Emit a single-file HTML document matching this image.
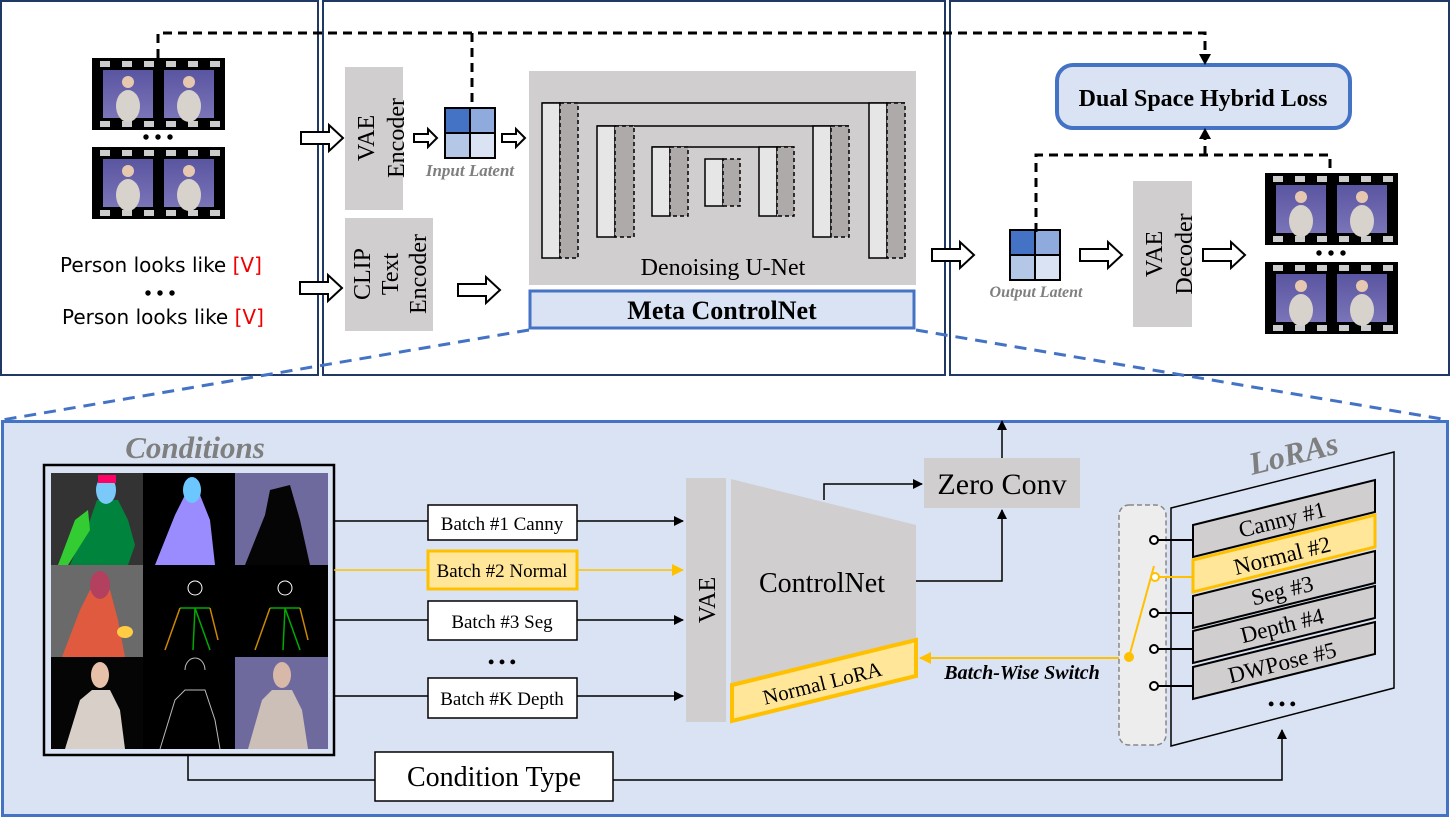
<!DOCTYPE html>
<html><head><meta charset="utf-8"><style>
html,body{margin:0;padding:0;background:#fff}
svg{display:block}
text{font-family:"Liberation Serif",serif}
</style></head><body>
<svg width="1451" height="819" viewBox="0 0 1451 819" xmlns="http://www.w3.org/2000/svg">
<defs>
<marker id="ab" markerWidth="10" markerHeight="10" refX="9" refY="5" orient="auto" markerUnits="userSpaceOnUse"><path d="M0,0 L10,5 L0,10 z" fill="#000"/></marker>
<marker id="ay" markerWidth="12" markerHeight="12" refX="11" refY="6" orient="auto" markerUnits="userSpaceOnUse"><path d="M0,0 L12,6 L0,12 z" fill="#ffc000"/></marker>
<linearGradient id="ph" x1="0" y1="0" x2="0" y2="1"><stop offset="0" stop-color="#5a55a0"/><stop offset="1" stop-color="#7a74b8"/></linearGradient>
<g id="hollow"><path d="M0,-6 L28,-6 L28,-13 L42,0 L28,13 L28,6 L0,6 z" fill="#fff" stroke="#000" stroke-width="2"/></g>
<g id="shollow"><path d="M0,-4 L14,-4 L14,-9 L23,0 L14,9 L14,4 L0,4 z" fill="#fff" stroke="#000" stroke-width="2"/></g>
<g id="frame"><rect width="50" height="48" fill="url(#ph)"/><ellipse cx="25" cy="36" rx="12" ry="16" fill="#d8d2cc"/><circle cx="25" cy="12" r="6" fill="#e6c8b0"/></g>
<g id="strip">
<rect x="0" y="0" width="133" height="72" fill="#000"/>
<g fill="#ccc"><rect x="8" y="3" width="10" height="6"/><rect x="30" y="3" width="10" height="6"/><rect x="52" y="3" width="10" height="6"/><rect x="74" y="3" width="10" height="6"/><rect x="96" y="3" width="10" height="6"/><rect x="118" y="3" width="10" height="6"/>
<rect x="8" y="63" width="10" height="6"/><rect x="30" y="63" width="10" height="6"/><rect x="52" y="63" width="10" height="6"/><rect x="74" y="63" width="10" height="6"/><rect x="96" y="63" width="10" height="6"/><rect x="118" y="63" width="10" height="6"/></g>
<use href="#frame" x="11" y="12"/><use href="#frame" x="72" y="12"/>
</g>
<g id="latent">
<rect x="0" y="0" width="25" height="25" fill="#4472c4" stroke="#000" stroke-width="2"/>
<rect x="25" y="0" width="25" height="25" fill="#8faadc" stroke="#000" stroke-width="2"/>
<rect x="0" y="25" width="25" height="25" fill="#b4c7e7" stroke="#000" stroke-width="2"/>
<rect x="25" y="25" width="25" height="25" fill="#dae3f3" stroke="#000" stroke-width="2"/>
</g>
</defs>

<rect x="1" y="1" width="317" height="374" fill="#fff" stroke="#1f3864" stroke-width="2"/>
<rect x="323" y="1" width="622" height="374" fill="#fff" stroke="#1f3864" stroke-width="2"/>
<rect x="950" y="1" width="499" height="374" fill="#fff" stroke="#1f3864" stroke-width="2"/>

<use href="#strip" x="92" y="58"/>
<use href="#strip" x="92" y="147"/>
<text x="158" y="144" text-anchor="middle" font-size="20" font-weight="bold">• • •</text>
<text x="60" y="272" style="font-family:'DejaVu Sans',sans-serif" font-size="20">Person looks like <tspan fill="#e00">[V]</tspan></text>
<text x="160" y="300" text-anchor="middle" font-size="20" font-weight="bold">• • •</text>
<text x="62" y="324" style="font-family:'DejaVu Sans',sans-serif" font-size="20">Person looks like <tspan fill="#e00">[V]</tspan></text>

<use href="#hollow" x="301" y="138"/>
<use href="#hollow" x="300" y="288"/>

<rect x="345" y="67" width="58" height="143" fill="#d0cece"/>
<text transform="translate(383,138) rotate(-90)" text-anchor="middle" font-size="24"><tspan x="0" dy="-9">VAE</tspan><tspan x="0" dy="30">Encoder</tspan></text>
<rect x="345" y="218" width="88" height="113" fill="#d0cece"/>
<text transform="translate(389,274) rotate(-90)" text-anchor="middle" font-size="24"><tspan x="0" dy="-19">CLIP</tspan><tspan x="0" dy="28">Text</tspan><tspan x="0" dy="28">Encoder</tspan></text>

<use href="#shollow" x="414" y="138"/>
<use href="#latent" x="445" y="108"/>
<use href="#shollow" x="502" y="138"/>
<text x="470" y="176" text-anchor="middle" font-size="17" font-style="italic" font-weight="bold" fill="#7f7f7f">Input Latent</text>
<use href="#hollow" x="458" y="290"/>

<rect x="529" y="71" width="387" height="214" fill="#d0cece"/>
<g stroke="#000" stroke-width="1.5">
<path d="M542,103 H905 M597,126 H849 M652,147 H794" fill="none"/>
<rect x="542" y="103" width="18" height="155" fill="#e7e6e6"/><rect x="560" y="103" width="18" height="155" fill="#aeaaaa" stroke-dasharray="4,3"/>
<rect x="869" y="103" width="18" height="155" fill="#e7e6e6"/><rect x="887" y="103" width="18" height="155" fill="#aeaaaa" stroke-dasharray="4,3"/>
<rect x="597" y="126" width="18" height="111" fill="#e7e6e6"/><rect x="615" y="126" width="19" height="111" fill="#aeaaaa" stroke-dasharray="4,3"/>
<rect x="813" y="126" width="18" height="111" fill="#e7e6e6"/><rect x="831" y="126" width="18" height="111" fill="#aeaaaa" stroke-dasharray="4,3"/>
<rect x="652" y="147" width="18" height="69" fill="#e7e6e6"/><rect x="670" y="147" width="18" height="69" fill="#aeaaaa" stroke-dasharray="4,3"/>
<rect x="759" y="147" width="18" height="69" fill="#e7e6e6"/><rect x="777" y="147" width="17" height="69" fill="#aeaaaa" stroke-dasharray="4,3"/>
<rect x="705" y="159" width="18" height="47" fill="#e7e6e6"/><rect x="723" y="159" width="17" height="47" fill="#aeaaaa" stroke-dasharray="4,3"/>
</g>
<text x="723" y="275" text-anchor="middle" font-size="24">Denoising U-Net</text>
<rect x="530" y="291" width="384" height="37" fill="#dae3f3" stroke="#4472c4" stroke-width="3"/>
<text x="722" y="319" text-anchor="middle" font-size="26" font-weight="bold">Meta ControlNet</text>

<use href="#hollow" x="932" y="255"/>
<use href="#latent" x="1010" y="230"/>
<text x="1036" y="297" text-anchor="middle" font-size="16" font-style="italic" font-weight="bold" fill="#7f7f7f">Output Latent</text>
<use href="#hollow" x="1080" y="255"/>
<rect x="1133" y="181" width="59" height="146" fill="#d0cece"/>
<text transform="translate(1171,254) rotate(-90)" text-anchor="middle" font-size="24"><tspan x="0" dy="-9">VAE</tspan><tspan x="0" dy="30">Decoder</tspan></text>
<use href="#hollow" x="1203" y="255"/>
<use href="#strip" x="1265" y="173"/>
<use href="#strip" x="1265" y="262"/>
<text x="1331" y="260" text-anchor="middle" font-size="20" font-weight="bold">• • •</text>
<rect x="1057" y="65" width="293" height="63" rx="16" fill="#dae3f3" stroke="#4472c4" stroke-width="4"/>
<text x="1203" y="106" text-anchor="middle" font-size="24" font-weight="bold">Dual Space Hybrid Loss</text>

<g stroke="#000" stroke-width="3" stroke-dasharray="9,6" fill="none">
<path d="M158,58 V33 H1205 V56"/>
<path d="M472,33 V108"/>
<path d="M1036,232 V155 H1330 V175"/>
<path d="M1205,155 V138"/>
</g>
<path d="M1199,54 L1205,65 L1211,54 z"/>
<path d="M1199,139 L1205,128 L1211,139 z"/>

<g stroke="#4472c4" stroke-width="3" stroke-dasharray="12,8">
<path d="M529,330 L2,420"/><path d="M916,330 L1448,420"/>
</g>

<rect x="2.5" y="421.5" width="1445" height="394" fill="#dae3f3" stroke="#4472c4" stroke-width="3"/>
<text x="195" y="458" text-anchor="middle" font-size="31" font-style="italic" font-weight="bold" fill="#7f7f7f">Conditions</text>
<rect x="44" y="465" width="290" height="290" fill="#dae3f3" stroke="#000" stroke-width="2.5"/>
<g>
<rect x="51" y="473" width="92" height="92" fill="#333"/>
<path d="M70,565 L90,520 L97,500 L118,500 L128,520 L135,545 L128,565 z" fill="#00843d"/>
<path d="M58,565 L75,520 L88,510 L90,530 L68,565z" fill="#3c3"/>
<ellipse cx="106" cy="490" rx="10" ry="14" fill="#7ac9f9"/>
<path d="M98,475 h18 v8 h-18z" fill="#f06"/>
<rect x="143" y="473" width="92" height="92" fill="#000"/>
<path d="M155,565 L175,515 L185,495 L200,495 L210,520 L215,565 z" fill="#9a8cff"/>
<ellipse cx="192" cy="490" rx="9" ry="13" fill="#6cc6ff"/>
<rect x="235" y="473" width="93" height="92" fill="#6e6a9e"/>
<path d="M245,565 L265,515 L270,490 L290,485 L300,520 L310,565 z" fill="#050505"/>
<rect x="51" y="565" width="92" height="92" fill="#6a6a6a"/>
<path d="M62,657 L80,610 L90,590 L110,590 L118,620 L125,657 z" fill="#e05a40"/>
<ellipse cx="100" cy="585" rx="10" ry="14" fill="#b44060"/>
<ellipse cx="125" cy="632" rx="8" ry="6" fill="#ffcc44"/>
<rect x="143" y="565" width="185" height="92" fill="#000"/>
<g stroke-width="1.5" fill="none"><path d="M180,608 H210 M195,608 L193,650 M195,608 L210,650" stroke="#0a0"/><path d="M180,608 L165,650 M210,608 L218,640" stroke="#c80"/>
<path d="M270,608 H300 M285,608 L283,650 M285,608 L300,650" stroke="#0a0"/><path d="M270,608 L255,650 M300,608 L308,640" stroke="#c80"/></g>
<circle cx="195" cy="588" r="7" stroke="#fff" fill="none"/><circle cx="285" cy="588" r="7" stroke="#fff" fill="none"/>
<rect x="51" y="657" width="92" height="92" fill="#050505"/>
<path d="M65,749 L80,700 L92,690 L110,690 L120,710 L125,749 z" fill="#d8d0c8"/>
<ellipse cx="100" cy="675" rx="9" ry="13" fill="#e6c0a8"/>
<rect x="143" y="657" width="92" height="92" fill="#000"/>
<path d="M160,749 L175,700 L185,690 L205,690 L215,720 L220,749 M185,670 a10,12 0 1,1 20,0" stroke="#bbb" fill="none"/>
<rect x="235" y="657" width="93" height="92" fill="#6e6a9e"/>
<path d="M248,749 L262,700 L272,690 L292,690 L302,710 L308,749 z" fill="#cbbfb8"/>
<ellipse cx="282" cy="675" rx="9" ry="13" fill="#d8b8a8"/>
</g>

<g stroke="#000" stroke-width="1.5">
<path d="M334,521 H428"/><path d="M577,521 H683" marker-end="url(#ab)"/>
<path d="M334,620 H428"/><path d="M577,620 H683" marker-end="url(#ab)"/>
<path d="M334,696 H428"/><path d="M577,696 H683" marker-end="url(#ab)"/>
</g>
<path d="M334,570 H428" stroke="#ffc000" stroke-width="1.5"/>
<path d="M577,570 H683" stroke="#ffc000" stroke-width="1.5" marker-end="url(#ay)"/>
<g font-size="19">
<rect x="428" y="505" width="149" height="35" fill="#fff" stroke="#000" stroke-width="1.5"/><text x="502" y="530" text-anchor="middle">Batch #1 Canny</text>
<rect x="428" y="551" width="149" height="38" fill="#ffe699" stroke="#ffc000" stroke-width="3"/><text x="502" y="577" text-anchor="middle">Batch #2 Normal</text>
<rect x="428" y="601" width="149" height="39" fill="#fff" stroke="#000" stroke-width="1.5"/><text x="502" y="628" text-anchor="middle">Batch #3 Seg</text>
<text x="502" y="668" text-anchor="middle" font-size="18" font-weight="bold">• • •</text>
<rect x="428" y="678" width="149" height="40" fill="#fff" stroke="#000" stroke-width="1.5"/><text x="502" y="705" text-anchor="middle">Batch #K Depth</text>
</g>

<rect x="686" y="478" width="40" height="244" fill="#d0cece"/>
<text transform="translate(715,600) rotate(-90)" text-anchor="middle" font-size="24">VAE</text>
<path d="M731,479 L916,525 L916,640 L731,684 z" fill="#d0cece"/>
<text x="822" y="592" text-anchor="middle" font-size="28">ControlNet</text>
<path d="M732,685 L916,640 L916,676 L732,721 z" fill="#ffe699" stroke="#ffc000" stroke-width="4"/>
<text transform="translate(824,690) rotate(-14)" text-anchor="middle" font-size="21">Normal LoRA</text>

<rect x="924" y="458" width="156" height="50" fill="#d0cece"/>
<text x="1002" y="494" text-anchor="middle" font-size="30">Zero Conv</text>
<g stroke="#000" stroke-width="1.5" fill="none">
<path d="M824,500 V484 H922" marker-end="url(#ab)"/>
<path d="M916,581 H1002 V510" marker-end="url(#ab)"/>
<path d="M1002,458 V421" marker-end="url(#ab)"/>
</g>

<path d="M1128,658 H920" stroke="#ffc000" stroke-width="2" marker-end="url(#ay)"/>
<text x="1022" y="679" text-anchor="middle" font-size="20" font-style="italic" font-weight="bold">Batch-Wise Switch</text>
<rect x="1119" y="505" width="47" height="240" rx="10" fill="#ededed" stroke="#888" stroke-width="1.5" stroke-dasharray="5,3"/>

<path d="M1171,508 L1394,452 L1394,688 L1171,746 z" fill="#dae3f3" stroke="#000" stroke-width="1.5"/>
<text transform="translate(1296,464) rotate(-14)" text-anchor="middle" font-size="32" font-weight="bold" font-style="italic" fill="#7f7f7f">LoRAs</text>

<g stroke="#000" stroke-width="2">
<path d="M1193,525 L1375,480 L1375,512 L1193,557 z" fill="#d0cece"/>
<path d="M1193,631 L1375,586 L1375,618 L1193,663 z" fill="#d0cece"/>
<path d="M1193,596 L1375,551 L1375,583 L1193,628 z" fill="#d0cece"/>
<path d="M1193,667 L1375,622 L1375,654 L1193,699 z" fill="#d0cece"/>
<path d="M1193,560 L1375,515 L1375,547 L1193,592 z" fill="#ffe699" stroke="#ffc000" stroke-width="3"/>
</g>
<g font-size="23">
<text transform="translate(1284,527) rotate(-14)" text-anchor="middle">Canny #1</text>
<text transform="translate(1284,563) rotate(-14)" text-anchor="middle">Normal #2</text>
<text transform="translate(1284,598) rotate(-14)" text-anchor="middle">Seg #3</text>
<text transform="translate(1284,633) rotate(-14)" text-anchor="middle">Depth #4</text>
<text transform="translate(1284,670) rotate(-14)" text-anchor="middle">DWPose #5</text>
</g>
<text x="1282" y="710" text-anchor="middle" font-size="18" font-weight="bold">• • •</text>

<g stroke="#000" stroke-width="2">
<path d="M1158,540 H1193 M1158,613 H1193 M1158,649 H1193 M1158,686 H1193"/>
</g>
<g fill="#fff" stroke="#000" stroke-width="2">
<circle cx="1154" cy="540" r="4"/><circle cx="1154" cy="613" r="4"/><circle cx="1154" cy="649" r="4"/><circle cx="1154" cy="686" r="4"/>
</g>
<path d="M1158,577 H1193 M1129,657 L1154,566" stroke="#ffc000" stroke-width="2"/>
<circle cx="1155" cy="577" r="4" fill="#fff" stroke="#ffc000" stroke-width="2"/>
<circle cx="1129" cy="657" r="5" fill="#ffc000"/>

<path d="M188,756 V780 H375" stroke="#000" stroke-width="1.5" fill="none"/>
<path d="M613,780 H1282 V730" stroke="#000" stroke-width="1.5" fill="none" marker-end="url(#ab)"/>
<rect x="375" y="752" width="238" height="49" fill="#fff" stroke="#000" stroke-width="1.5"/>
<text x="494" y="786" text-anchor="middle" font-size="28">Condition Type</text>
</svg>
</body></html>
